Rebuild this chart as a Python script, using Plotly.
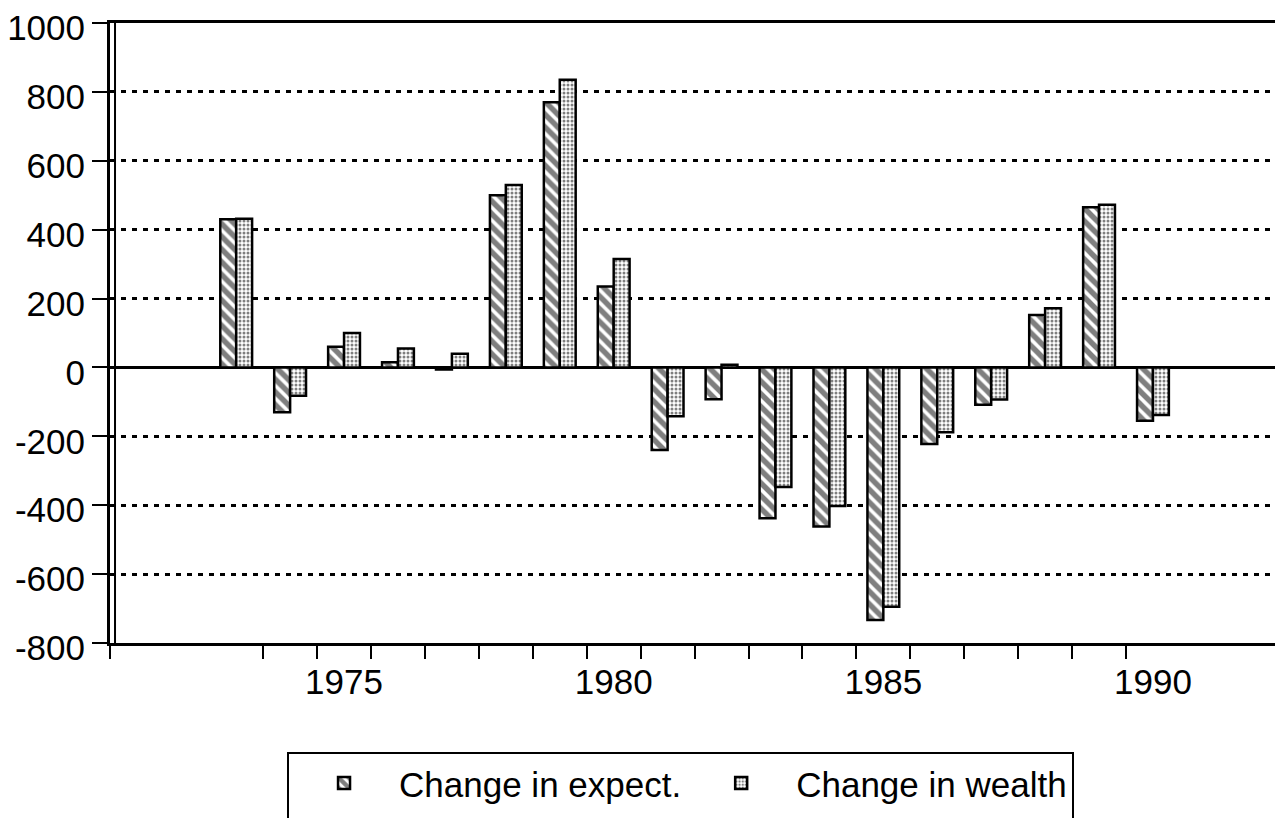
import plotly.graph_objects as go

years = list(range(1973, 1991))
change_expect = [430, -130, 60, 15, -6, 500, 770, 235, -240, -92, -438, -462, -733, -222, -108, 152, 465, -155]
change_wealth = [432, -82, 100, 55, 40, 530, 835, 315, -142, 8, -347, -402, -695, -188, -93, 172, 472, -138]

series_names = ["Change in expect.", "Change in wealth"]
y_ticks = list(range(-800, 1001, 200))
y_ticktext = [str(v) for v in y_ticks]  # plain hyphen-minus as in the original
x_labels = [1975, 1980, 1985, 1990]
minor_ticks = [1970.66] + [y + 0.5 for y in range(1973, 1990)] + [1992.3]

FONT = "Liberation Sans, Arial, Helvetica, sans-serif"

fig = go.Figure()
fig.add_trace(go.Bar(
    x=years, y=change_expect, name=series_names[0] + "<br> ",
    marker=dict(color="white", line=dict(color="black", width=2.5),
                pattern=dict(shape="\\", fgcolor="black", bgcolor="white", size=9, solidity=0.6)),
))
fig.add_trace(go.Bar(
    x=years, y=change_wealth, name=series_names[1] + "<br> ",
    marker=dict(color="white", line=dict(color="black", width=2.5),
                pattern=dict(shape=".", fgcolor="black", bgcolor="white", size=4, solidity=0.45)),
))

fig.update_layout(
    width=1283, height=818,
    margin=dict(l=102, r=14, t=15, b=183, autoexpand=False),
    paper_bgcolor="white", plot_bgcolor="white",
    barmode="group", bargap=0.41, bargroupgap=0,
    font=dict(family=FONT, size=35, color="black"),
    showlegend=True,
    legend=dict(
        orientation="h", x=0.1517, y=-0.1755, xanchor="left", yanchor="top",
        bordercolor="black", borderwidth=2, bgcolor="white",
        font=dict(family=FONT, size=35, color="black"),
        itemwidth=100, tracegroupgap=0, valign="top",
    ),
    shapes=[
        dict(type="line", xref="paper", yref="paper", x0=0.0043, x1=0.0043, y0=0, y1=1,
             line=dict(color="black", width=2)),
    ],
)

fig.update_xaxes(
    range=[1970.66, 1992.3], automargin=False,
    tickmode="array", tickvals=x_labels, ticktext=[str(v) for v in x_labels],
    ticks="", ticklabelstandoff=6, ticklabeloverflow="allow",
    minor=dict(tickmode="array", tickvals=minor_ticks, ticks="outside", ticklen=13,
               tickwidth=2, tickcolor="black", showgrid=False),
    showline=True, linecolor="black", linewidth=3, mirror=True,
    showgrid=False, zeroline=False,
)
fig.update_yaxes(
    range=[-800, 1000], automargin=False,
    tickmode="array", tickvals=y_ticks, ticktext=y_ticktext, ticklabeloverflow="allow",
    ticklabelshift=5,
    ticks="outside", ticklen=15, tickwidth=2, tickcolor="black",
    showline=True, linecolor="black", linewidth=3, mirror=True,
    showgrid=True, gridcolor="black", gridwidth=3, griddash="5px,6px",
    zeroline=True, zerolinecolor="black", zerolinewidth=2.5,
)

fig.write_html("out.html")
